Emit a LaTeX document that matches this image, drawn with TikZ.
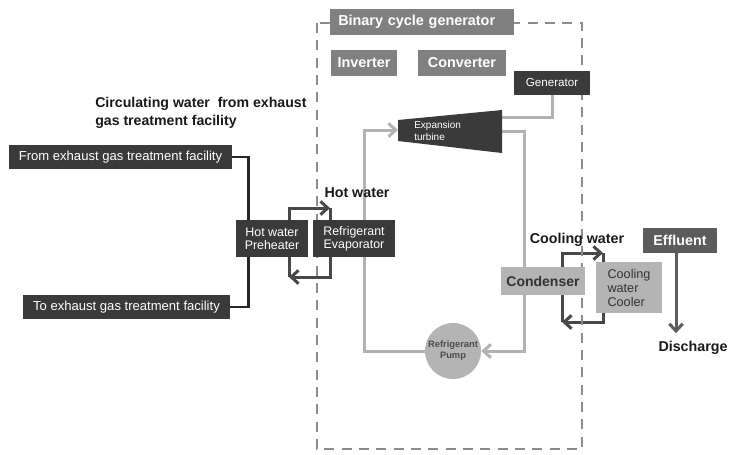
\documentclass[tikz,border=0pt]{standalone}
\usepackage{fontspec}
\setmainfont{Liberation Sans}
\usetikzlibrary{arrows.meta,backgrounds}
\definecolor{boxdark}{RGB}{58,58,58}
\definecolor{boxmid}{RGB}{128,128,128}
\definecolor{boxeff}{RGB}{92,92,92}
\definecolor{boxlight}{RGB}{180,180,180}
\definecolor{pipelight}{RGB}{178,178,178}
\definecolor{pipedark}{RGB}{72,72,72}
\definecolor{framegray}{RGB}{140,140,140}

\begin{document}
\begin{tikzpicture}[x=0.75pt,y=0.75pt,yscale=-1,
  darkbox/.style={fill=boxdark,text=white,inner sep=0pt,align=center,font=\fontsize{9.3}{10}\selectfont},
  midbox/.style={fill=boxmid,text=white,inner sep=0pt,minimum height=19.5pt,font=\fontsize{10.8}{13}\selectfont\bfseries},
  lightbox/.style={fill=boxlight,text=black!80,inner sep=0pt},
  lbl/.style={inner sep=0pt,text=black!90,font=\fontsize{10.7}{13}\selectfont\bfseries},
  barb/.tip={Straight Barb[length=5.5pt,width=10pt]},
  pipe/.style={line width=2.25pt,draw=pipelight},
  water/.style={line width=2.25pt,draw=pipedark},
  ext/.style={line width=1.9pt,draw=black!85},
  frame/.style={line width=1.5pt,draw=framegray,dash pattern=on 7.5pt off 5.5pt}
]
\useasboundingbox (0,0) rectangle (735,454);

%Frame of the generator unit
\draw[frame] (317,23) rectangle (582,449);

% Boxes
\node[midbox,anchor=west,text width=126pt,inner xsep=6pt,align=left] (bcg) at (330,22) {Binary cycle generator};
\node[midbox,minimum width=49.5pt] (inv) at (364,63) {Inverter};
\node[midbox,minimum width=66pt] (conv) at (462,63) {Converter};
\node[darkbox,minimum width=57pt,minimum height=18pt,font=\fontsize{8.7}{10}\selectfont] (gen) at (552,83) {Generator};

% Expansion turbine
\fill[boxdark] (398,120) -- (502,110) -- (502,153) -- (398,141) -- cycle;
\node[inner sep=0pt,text=white,anchor=west,align=left,font=\fontsize{7.5}{9}\selectfont] (turb) at (414,131) {Expansion\\turbine};
\coordinate (tin) at (398,130);
\coordinate (tout) at (502,131);
\coordinate (tgen) at (502,117);

\node[darkbox,minimum width=54pt,minimum height=27.75pt] (pre) at (272,238.5) {Hot water\\Preheater};
\node[darkbox,minimum width=61.5pt,minimum height=27.75pt] (evap) at (354,238.5) {Refrigerant\\Evaporator};
\node[darkbox,minimum width=167.25pt,minimum height=18pt,font=\fontsize{9.8}{11}\selectfont] (fromex) at (120.5,157) {From exhaust gas treatment facility};
\node[darkbox,minimum width=155.25pt,minimum height=18pt,font=\fontsize{9.8}{11}\selectfont] (toex) at (126.5,307) {To exhaust gas treatment facility};

\node[lightbox,minimum width=63pt,minimum height=21pt,font=\fontsize{10.5}{12}\selectfont\bfseries] (cond) at (543,281) {Condenser};
\node[lightbox,minimum width=49.5pt,minimum height=38.25pt,align=left,font=\fontsize{9.5}{10.5}\selectfont] (cooler) at (629,287.5) {Cooling\\water\\Cooler};
\node[fill=boxeff,text=white,inner sep=0pt,minimum width=55.5pt,minimum height=18.75pt,font=\fontsize{10.7}{13}\selectfont\bfseries] (eff) at (680,240.5) {Effluent};
\node[circle,fill=boxlight,text=black!70,inner sep=0pt,minimum size=42pt,align=center,font=\fontsize{7}{8.25}\selectfont\bfseries] (pump) at (453,351) {Refrigerant\\Pump};

% Text Node
\node[lbl,anchor=west,align=left,font=\fontsize{10.6}{13.5}\selectfont\bfseries] (title) at (95,113) {Circulating water\ \ from exhaust\\gas treatment facility};
% Text Node
\node[lbl] (hotw) at (357,193) {Hot water};
% Text Node
\node[lbl] (coolw) at (577,240) {Cooling water};
% Text Node
\node[lbl] (disch) at (693,348) {Discharge};

\coordinate (hwA) at (289,277);
\coordinate (hwB) at (330,208);
\coordinate (cwA) at (562,322);
\coordinate (cwB) at (603,253);

\begin{pgfonlayer}{background}
%Refrigerant loop
\draw[pipe,-barb] (pump.west) -- ++(-60,0) |- (tin);
\draw[pipe,-barb] (tout) -- ++(22,0) |- (pump.east);
\draw[pipe] (tgen) -| (gen.south);
%Circulating water
\draw[ext] (fromex.east) -- ++(16,0) |- (toex.east);
%Hot water loop
\draw[water,-barb] (hwA) |- (hwB);
\draw[water,-barb] (hwB) |- (hwA);
%Cooling water loop
\draw[water,-barb] (cwA) |- (cwB);
\draw[water,-barb] (cwB) |- (cwA);
%Effluent
\draw[line width=2.25pt,draw=boxeff,-barb] (eff.south) ++(-4,0) -- ++(0,80);
\end{pgfonlayer}

\end{tikzpicture}
\end{document}
